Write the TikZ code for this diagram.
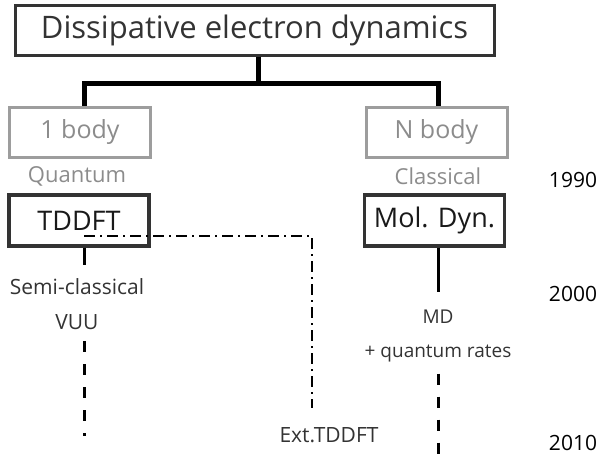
\documentclass[tikz,border=0pt]{standalone}
\usepackage{fontspec}
\setmainfont{Open Sans}
\usetikzlibrary{positioning}
\definecolor{dkgray}{HTML}{333333}
\definecolor{ltgray}{HTML}{8C8C8C}
\tikzstyle{titlebox} = [rectangle, draw=dkgray, line width=3pt, minimum width=479pt, minimum height=50pt, text=dkgray, font=\fontsize{31}{36}\selectfont]
\tikzstyle{bodybox} = [rectangle, draw=ltgray!85, line width=3pt, minimum width=141pt, minimum height=50pt, text=ltgray, font=\fontsize{25}{30}\selectfont]
\tikzstyle{methbox} = [rectangle, draw=dkgray, line width=3.2pt, minimum width=140pt, minimum height=51pt, text=black!90, font=\fontsize{27}{32}\selectfont]
\tikzstyle{kind} = [text=ltgray, font=\fontsize{22}{26}\selectfont]
\tikzstyle{branch} = [text=dkgray, align=center, font=\fontsize{21}{35}\selectfont]
\tikzstyle{year} = [text=black, font=\fontsize{21}{24}\selectfont]
\tikzstyle{tree} = [draw, line width=5pt]
\tikzstyle{solid line} = [draw, line width=3pt]
\tikzstyle{dash line} = [draw, line width=3pt, dash pattern=on 11pt off 12pt]
\tikzstyle{dashdot line} = [draw, line width=2.8pt, dash pattern=on 11pt off 5pt on 2pt off 5pt]

\begin{document}
\begin{tikzpicture}[x=1pt, y=-1pt]
\useasboundingbox (0,0) rectangle (603,461);

\node [titlebox] (title) at (254.5,30) {Dissipative electron dynamics};
\node [bodybox] (one) at (80,132) {1 body};
\node [bodybox] (many) at (436.5,132) {N body};
\node [kind] (quant) at (77,176) {Quantum};
\node [kind] (class) at (438,176) {Classical};
\node [methbox] (tddft) at (79,220.5) {TDDFT};
\node [methbox] (moldyn) at (434.5,220.5) {Mol. Dyn.};

\node [branch] (semi) at (77,304) {Semi-classical\\VUU};
\node [branch] (ext) at (329,435) {Ext.TDDFT};
\node [branch, font=\fontsize{19}{34}\selectfont] (md) at (438,336) {MD\\+ quantum rates};

\node [year] (y90) at (573,180) {1990};
\node [year] (y00) at (573,294) {2000};
\node [year] (y10) at (573,443) {2010};

\coordinate (fork) at (258,83);
\coordinate (split) at (84,236);
\coordinate (extend) at (312,408);
\coordinate (semiend) at (84,436);
\coordinate (mdend) at (438,461);

\path [tree] ([xshift=3.5pt]title.south) -- (fork);
\path [tree] ([xshift=4pt]one.north) |- (fork) -| ([xshift=1.5pt]many.north);

\path [solid line] ([xshift=5pt]tddft.south) -- ([xshift=7pt,yshift=10pt]semi.north);
\path [dashdot line] (split) -| (extend);
\path [dash line] ([xshift=7pt,yshift=-8pt]semi.south) -- (semiend);
\path [solid line] ([xshift=3.5pt]moldyn.south) -- ([yshift=14pt]md.north);
\path [dash line] ([yshift=-8pt]md.south) -- (mdend);

\end{tikzpicture}
\end{document}
